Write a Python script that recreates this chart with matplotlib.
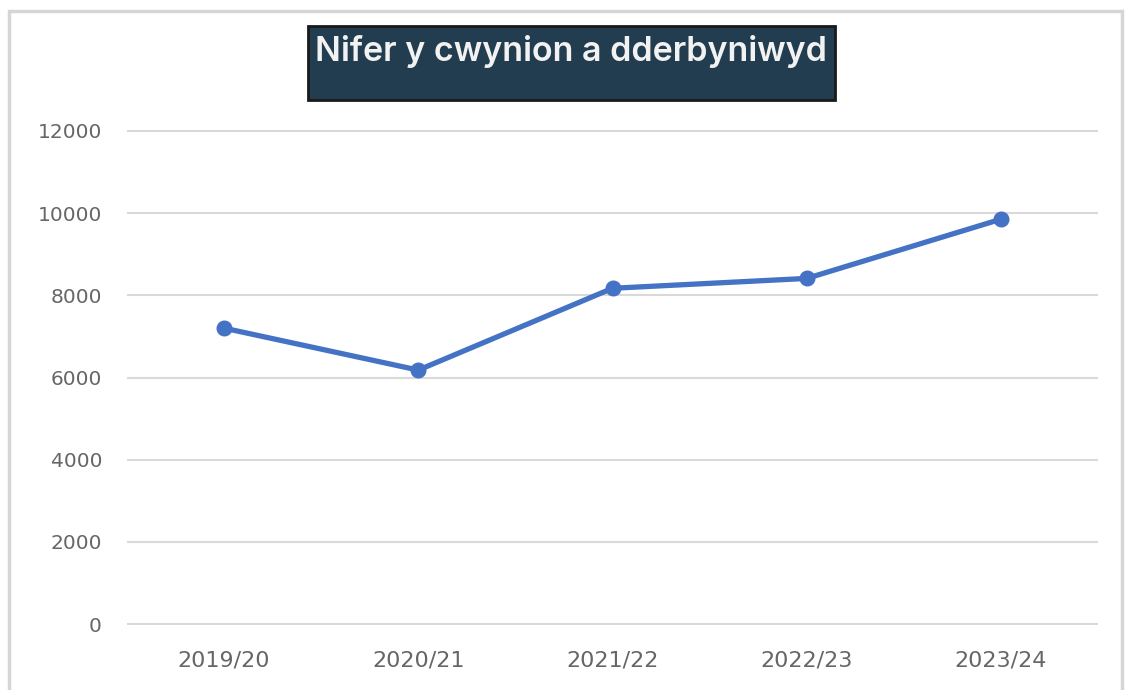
import matplotlib.pyplot as plt
from matplotlib.patches import Rectangle

# Daten
years = ["2019/20", "2020/21", "2021/22", "2022/23", "2023/24"]
complaints = [7200, 6180, 8170, 8410, 9850]
y_ticks = [0, 2000, 4000, 6000, 8000, 10000, 12000]

title = "Nifer y cwynion a dderbyniwyd"

W, H = 1132, 690
fig = plt.figure(figsize=(W / 100, H / 100), dpi=100)

# heller Rahmen um das ganze Diagramm
fig.patches.append(Rectangle((9 / W, -0.05), (1122 - 9) / W, (H - 11) / H + 0.05,
                             transform=fig.transFigure, fill=False,
                             edgecolor="#d6d6d6", linewidth=2.5))

ax = fig.add_axes([127 / W, 1 - 625 / H, (1098 - 127) / W, (625 - 130) / H])
x = range(len(years))
ax.plot(x, complaints, color="#4472C4", linewidth=3.8, marker="o",
        markersize=10.5, solid_capstyle="round", zorder=3)

ax.set_xlim(-0.5, len(years) - 0.5)
ax.set_ylim(-20, 12020)
ax.set_yticks(y_ticks)
ax.set_xticks(list(x))
ax.set_xticklabels(years)
ax.yaxis.grid(True, color="#d9d9d9", linewidth=1.5)
ax.set_axisbelow(True)
for s in ax.spines.values():
    s.set_visible(False)
ax.tick_params(length=0, colors="#666666")
ax.tick_params(axis="y", pad=18, labelsize=14.5)
ax.tick_params(axis="x", pad=18, labelsize=16)

# Titelbox
fig.patches.append(Rectangle((308 / W, 1 - 100 / H), (835 - 308) / W, 74 / H,
                             transform=fig.transFigure, facecolor="#223d50",
                             edgecolor="#1a1a1a", linewidth=2))
fig.text(571 / W, 1 - 52 / H, title, ha="center", va="center", color="#f2f2f2",
         fontsize=24.5, family=["Inter", "DejaVu Sans"], fontweight="semibold")

plt.savefig("out.png", dpi=100, facecolor="white")
